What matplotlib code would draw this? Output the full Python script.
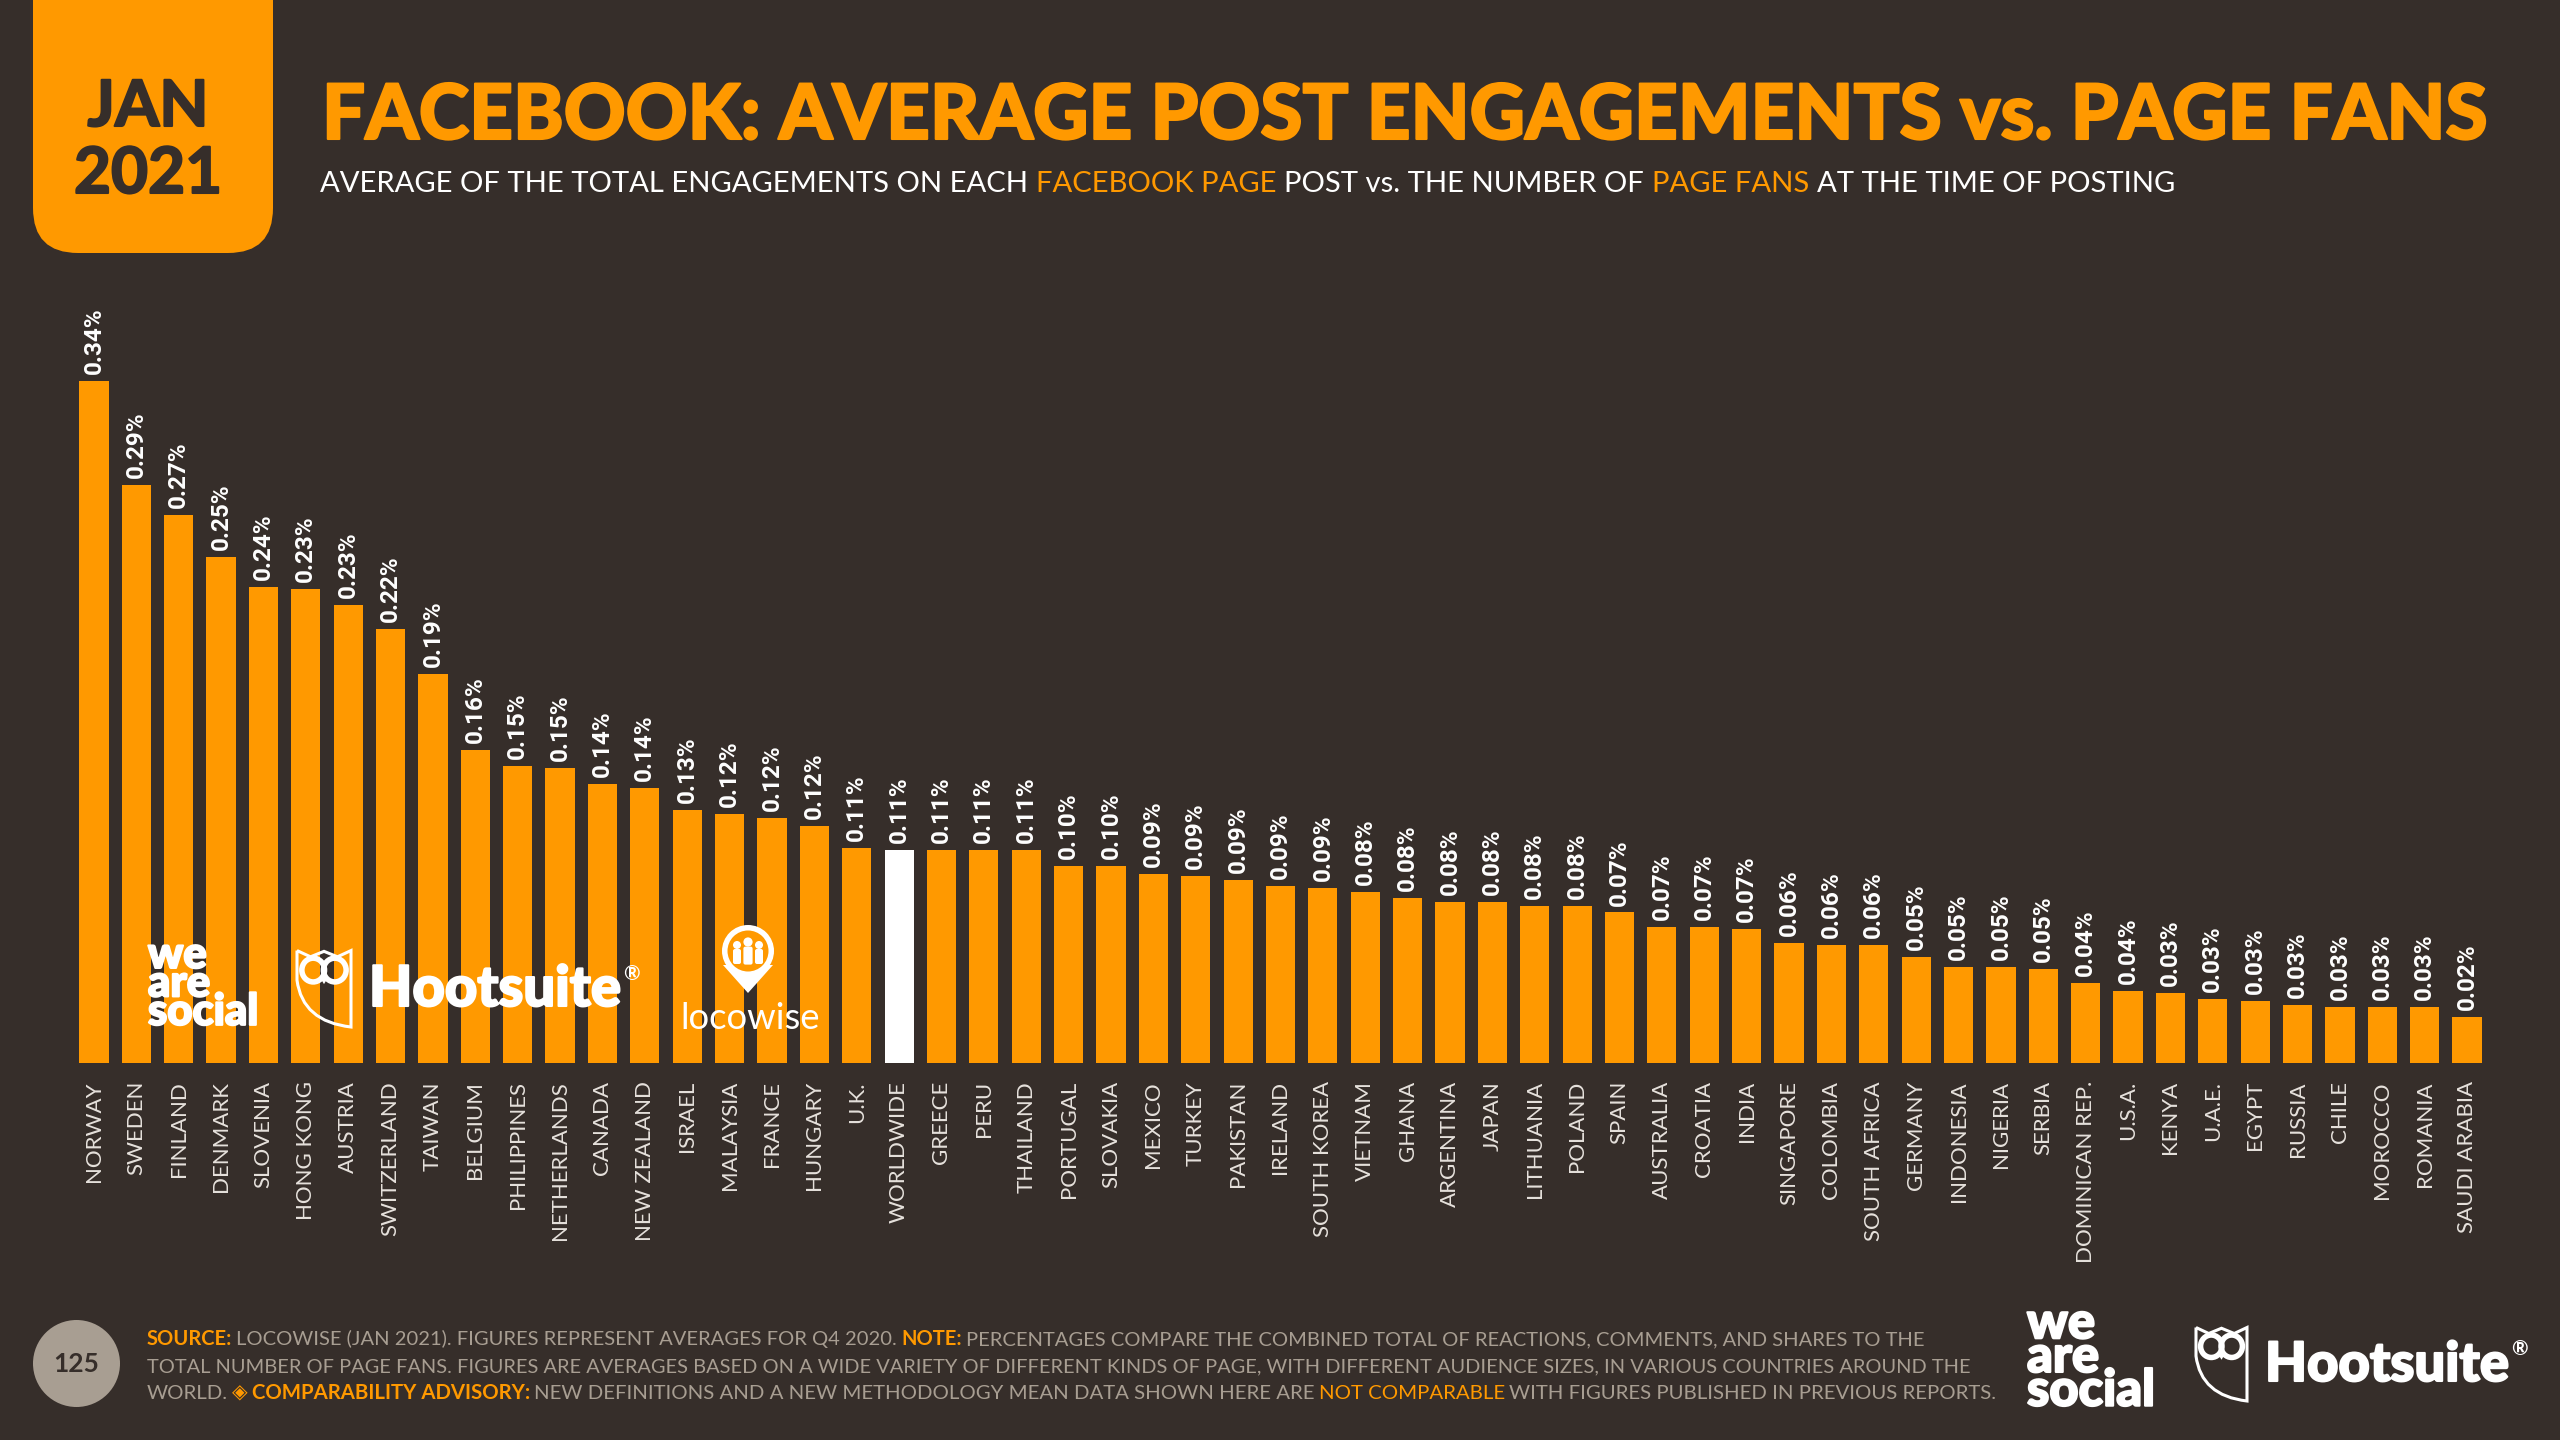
import matplotlib
matplotlib.use('Agg')
import matplotlib.pyplot as plt
import matplotlib.patheffects as pe
from matplotlib.patches import Circle, Ellipse, FancyBboxPatch, PathPatch, Polygon
from matplotlib.path import Path

BG = '#362E2A'
ORANGE = '#FF9900'
GREY = '#A89E92'
WHITE = '#FFFFFF'
LABEL = '#E6E1DC'

countries = [
    'NORWAY', 'SWEDEN', 'FINLAND', 'DENMARK', 'SLOVENIA', 'HONG KONG', 'AUSTRIA', 'SWITZERLAND',
    'TAIWAN', 'BELGIUM', 'PHILIPPINES', 'NETHERLANDS', 'CANADA', 'NEW ZEALAND', 'ISRAEL', 'MALAYSIA',
    'FRANCE', 'HUNGARY', 'U.K.', 'WORLDWIDE', 'GREECE', 'PERU', 'THAILAND', 'PORTUGAL', 'SLOVAKIA',
    'MEXICO', 'TURKEY', 'PAKISTAN', 'IRELAND', 'SOUTH KOREA', 'VIETNAM', 'GHANA', 'ARGENTINA', 'JAPAN',
    'LITHUANIA', 'POLAND', 'SPAIN', 'AUSTRALIA', 'CROATIA', 'INDIA', 'SINGAPORE', 'COLOMBIA',
    'SOUTH AFRICA', 'GERMANY', 'INDONESIA', 'NIGERIA', 'SERBIA', 'DOMINICAN REP.', 'U.S.A.', 'KENYA',
    'U.A.E.', 'EGYPT', 'RUSSIA', 'CHILE', 'MOROCCO', 'ROMANIA', 'SAUDI ARABIA',
]
# bar heights, in percent
values = [
    .340, .288, .273, .252, .237, .236, .228, .216, .194, .156, .148, .147, .139, .137, .126, .124,
    .122, .118, .107, .106, .106, .106, .106, .098, .098, .094, .093, .091, .088, .087, .085, .082,
    .080, .080, .078, .078, .075, .068, .068, .067, .060, .059, .059, .053, .048, .048, .047, .040,
    .036, .035, .032, .031, .029, .028, .028, .028, .023,
]
# printed labels, the source rounds them its own way
value_labels = [
    '0.34%', '0.29%', '0.27%', '0.25%', '0.24%', '0.23%', '0.23%', '0.22%', '0.19%', '0.16%', '0.15%',
    '0.15%', '0.14%', '0.14%', '0.13%', '0.12%', '0.12%', '0.12%', '0.11%', '0.11%', '0.11%', '0.11%',
    '0.11%', '0.10%', '0.10%', '0.09%', '0.09%', '0.09%', '0.09%', '0.09%', '0.08%', '0.08%', '0.08%',
    '0.08%', '0.08%', '0.08%', '0.07%', '0.07%', '0.07%', '0.07%', '0.06%', '0.06%', '0.06%', '0.05%',
    '0.05%', '0.05%', '0.05%', '0.04%', '0.04%', '0.03%', '0.03%', '0.03%', '0.03%', '0.03%', '0.03%',
    '0.03%', '0.02%',
]
highlight = 'WORLDWIDE'

title_runs = [('FACEBOOK: AVERAGE POST ENGAGEMENTS vs. PAGE FANS', ORANGE, 'black')]
subtitle_runs = [
    ('AVERAGE OF THE TOTAL ENGAGEMENTS ON EACH', WHITE, 'normal'), ('FACEBOOK PAGE', ORANGE, 'normal'),
    ('POST vs. THE NUMBER OF', WHITE, 'normal'), ('PAGE FANS', ORANGE, 'normal'),
    ('AT THE TIME OF POSTING', WHITE, 'normal'),
]
footer_1 = [
    ('SOURCE:', ORANGE, 'bold'), ('LOCOWISE (JAN 2021). FIGURES REPRESENT AVERAGES FOR Q4 2020.', GREY, 'normal'),
    ('NOTE:', ORANGE, 'bold'), ('PERCENTAGES COMPARE THE COMBINED TOTAL OF REACTIONS, COMMENTS, AND SHARES TO THE', GREY, 'normal'),
]
footer_2 = [('TOTAL NUMBER OF PAGE FANS. FIGURES ARE AVERAGES BASED ON A WIDE VARIETY OF DIFFERENT KINDS OF PAGE, WITH DIFFERENT AUDIENCE SIZES, IN VARIOUS COUNTRIES AROUND THE', GREY, 'normal')]
footer_3 = [
    ('WORLD.', GREY, 'normal'), ('\u25c8', ORANGE, 'bold'), ('COMPARABILITY ADVISORY:', ORANGE, 'bold'),
    ('NEW DEFINITIONS AND A NEW METHODOLOGY MEAN DATA SHOWN HERE ARE', GREY, 'normal'),
    ('NOT COMPARABLE', ORANGE, 'normal'), ('WITH FIGURES PUBLISHED IN PREVIOUS REPORTS.', GREY, 'normal'),
]

plt.rcParams['font.family'] = ['Lato', 'DejaVu Sans']
W, H = 2560, 1440
fig = plt.figure(figsize=(W / 100, H / 100), dpi=100, facecolor=BG)
renderer = fig.canvas.get_renderer()

# bars: axes placed so that one category is one 42.38 px slot
left, right, base, top = 72.8, 2488.2, 1063, 380.5
ax = fig.add_axes([left / W, 1 - base / H, (right - left) / W, (base - top) / H], facecolor='none')
colors = [WHITE if c == highlight else ORANGE for c in countries]
ax.bar(range(len(countries)), values, width=0.69, color=colors, linewidth=0)
ax.set_xlim(-0.5, len(countries) - 0.5)
ax.set_ylim(0, 0.34)
for s in ax.spines.values():
    s.set_visible(False)
ax.set_yticks([])
ax.set_xticks(range(len(countries)))
ax.set_xticklabels(countries, rotation=90, fontsize=16, color=LABEL)
ax.tick_params(axis='x', length=0, pad=13)
for i, (v, lab) in enumerate(zip(values, value_labels)):
    ax.annotate(lab, (i, v), xytext=(0, 5), textcoords='offset points', rotation=90, ha='center', va='bottom',
                fontsize=17.5, color=WHITE, fontweight='bold', family=['Roboto', 'Liberation Sans'],
                annotation_clip=False)

# everything else lives in an overlay in reference pixels
ov = fig.add_axes([0, 0, 1, 1], facecolor='none')
ov.set_xlim(0, W)
ov.set_ylim(H, 0)
ov.axis('off')


def fatten(tx, color, width):
    tx.set_path_effects([pe.withStroke(linewidth=width, foreground=color)])


def runs(items, x0, x1, y, size, gap=0.27):
    # write coloured pieces one after the other on a baseline, scaled to span x0..x1
    texts = [ov.text(x0, y, t, color=c, fontweight=w, fontsize=size, va='baseline', ha='left') for t, c, w in items]
    for _ in range(2):
        x = x0
        for tx in texts:
            tx.set_x(x)
            x += tx.get_window_extent(renderer).width + gap * size / 0.72
        x -= gap * size / 0.72
        size = size * (x1 - x0) / (x - x0)
        for tx in texts:
            tx.set_fontsize(size)
    x = x0
    for tx in texts:
        tx.set_x(x)
        x += tx.get_window_extent(renderer).width + gap * size / 0.72
    return texts


def fit(s, x0, x1, y, size, color=WHITE, weight='black', **kw):
    tx = ov.text(x0, y, s, color=color, fontweight=weight, fontsize=size, va='baseline', ha='left', **kw)
    tx.set_fontsize(size * (x1 - x0) / tx.get_window_extent(renderer).width)
    return tx


def we_are_social(x0, x1, y0, y1, color=WHITE):
    h = y1 - y0
    w = x1 - x0
    tx = fit('we\nare\nsocial', x0, x1, y0 + h * 0.985, h * 0.41, color, linespacing=0.65, multialignment='left')
    fatten(tx, color, 1.5)
    ov.add_patch(Circle((x0 + w * 0.65, y0 + h * 0.6), h * 0.032, color=color, lw=0))


def owl(x0, x1, y0, y1, color=WHITE, lw=2.2):
    w = x1 - x0
    h = y1 - y0
    X = lambda f: x0 + f * w
    Y = lambda f: y0 + f * h
    verts = [(X(0), Y(0.02)), (X(0.25), Y(0.1)), (X(0.5), Y(0.03)), (X(0.75), Y(0.1)), (X(1), Y(0.02)),
             (X(1), Y(1)), (X(0.1), Y(0.93)), (X(0), Y(0.4)), (X(0), Y(0.02))]
    codes = [Path.MOVETO, Path.LINETO, Path.LINETO, Path.LINETO, Path.LINETO, Path.LINETO,
             Path.CURVE3, Path.CURVE3, Path.LINETO]
    ov.add_patch(PathPatch(Path(verts, codes), fc='none', ec=color, lw=lw, joinstyle='miter'))
    r = w * 0.2
    for fx in (0.3, 0.7):
        ov.add_patch(Ellipse((X(fx), Y(0.27)), r * 2.1, r * 2.2, fc='none', ec=color, lw=lw * 1.8))
    ov.add_patch(Polygon([(X(0.42), Y(0.36)), (X(0.58), Y(0.36)), (X(0.5), Y(0.45))], color=color, lw=0))


def hootsuite(x0, x1, y_base, size, color=WHITE):
    fatten(fit('Hootsuite', x0, x1, y_base, size, color), color, 1.5)
    ov.text(x1 + 2, y_base - size * 0.72, '\u00ae', color=color, fontsize=size * 0.33, va='center', ha='left',
            fontweight='bold')


# header tab, square on top by running it off the canvas
ov.add_patch(FancyBboxPatch((33, -100), 240, 353, boxstyle='round,pad=0,rounding_size=45', fc=ORANGE, ec='none'))
fatten(ov.text(148, 126, 'JAN', color=BG, fontsize=46, fontweight='bold', ha='center', va='baseline'), BG, 1.5)
fatten(ov.text(148, 193, '2021', color=BG, fontsize=46, fontweight='bold', ha='center', va='baseline'), BG, 1.5)

for tx in runs(title_runs, 322, 2487, 139, 56):
    fatten(tx, ORANGE, 1.5)
runs(subtitle_runs, 320, 2172, 192, 22)

# logos on top of the bars
we_are_social(148, 258, 950, 1026)
owl(297, 351, 949, 1027)
hootsuite(369, 621, 1006, 44)
ov.add_patch(Polygon([(723, 965), (773, 965), (748, 993)], color=WHITE, lw=0))
ov.add_patch(Circle((748, 951), 26, color=WHITE, lw=0))
ov.add_patch(Circle((748, 951), 20.5, color=ORANGE, lw=0))
for dx, dy, r in [(-11, -6, 4), (0, -9, 4.6), (11, -6, 4)]:
    ov.add_patch(Circle((748 + dx, 951 + dy), r, color=WHITE, lw=0))
    ov.add_patch(FancyBboxPatch((748 + dx - r, 951 + dy + r), 2 * r, 17 - dy - 8,
                                boxstyle='round,pad=0,rounding_size=2', color=WHITE, lw=0))
fit('locowise', 680, 820, 1029, 32, WHITE, 'normal')

# footer
ov.add_patch(Ellipse((76.5, 1363.5), 87, 87, fc=GREY, ec='none'))
ov.text(76.5, 1372, '125', color=BG, fontsize=19, fontweight='bold', ha='center', va='baseline')
runs(footer_1, 147, 1931, 1345, 14.5, gap=0.2)
runs(footer_2, 147, 1949, 1372, 14.5, gap=0.2)
runs(footer_3, 147, 1992, 1399, 14.5, gap=0.2)
we_are_social(2027, 2155, 1320, 1407)
owl(2196, 2247, 1326, 1401)
hootsuite(2265, 2509, 1381, 44)

fig.savefig('out.png', dpi=100, facecolor=BG)
